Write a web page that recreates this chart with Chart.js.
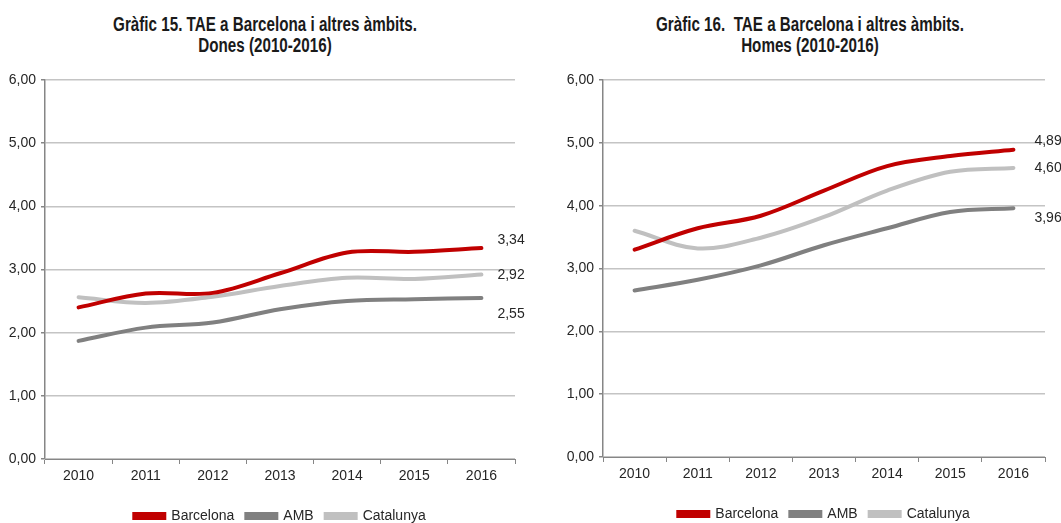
<!DOCTYPE html>
<html>
<head>
<meta charset="utf-8">
<script src="https://cdn.jsdelivr.net/npm/chart.js@4/dist/chart.umd.min.js"></script>
<style>
  html, body { margin: 0; padding: 0; background: #fff; overflow: hidden; }
  #wrap { position: relative; width: 1061px; height: 523px; overflow: hidden; }
  .box { position: absolute; top: 0; }
  .title {
    position: absolute; top: 14px; width: 500px; margin-left: -250px;
    text-align: center; font-family: 'Liberation Sans', Arial, sans-serif;
    font-weight: bold; font-size: 20px; line-height: 21px; color: #1a1a1a;
    transform: scaleX(0.76); transform-origin: center top; white-space: pre;
  }
</style>
</head>
<body>
<div id="wrap">
  <div class="title" style="left:265px">Gràfic 15. TAE a Barcelona i altres àmbits.
Dones (2010-2016)</div>
  <div class="title" style="left:810px">Gràfic 16.  TAE a Barcelona i altres àmbits.
Homes (2010-2016)</div>
  <div class="box" style="left:0;width:530px;height:533px"><canvas id="dones"></canvas></div>
  <div class="box" style="left:530px;width:531px;height:531px"><canvas id="homes"></canvas></div>
</div>
<script>
const years = ['2010', '2011', '2012', '2013', '2014', '2015', '2016'];
const seriesNames = ['Barcelona', 'AMB', 'Catalunya'];

const donesBarcelona = [2.40, 2.62, 2.63, 2.94, 3.27, 3.28, 3.34];
const donesAMB = [1.87, 2.08, 2.16, 2.37, 2.50, 2.53, 2.55];
const donesCatalunya = [2.56, 2.47, 2.57, 2.74, 2.87, 2.85, 2.92];

const homesBarcelona = [3.30, 3.64, 3.84, 4.24, 4.63, 4.79, 4.89];
const homesAMB = [2.65, 2.82, 3.05, 3.37, 3.64, 3.90, 3.96];
const homesCatalunya = [3.60, 3.32, 3.49, 3.82, 4.24, 4.54, 4.60];

const yTicks = [0, 1, 2, 3, 4, 5, 6];

const colors = ['#c00000', '#808080', '#c0c0c0'];
const textColor = '#262626';
const font = "'Liberation Sans', Arial, sans-serif";

const fmt = v => v.toFixed(2).replace('.', ',');

// value labels next to the last point of every line
const endLabels = {
    id: 'endLabels',
    afterDatasetsDraw(chart, args, opts) {
        const ctx = chart.ctx;
        ctx.save();
        ctx.font = '14px ' + font;
        ctx.fillStyle = textColor;
        ctx.textAlign = 'left';
        ctx.textBaseline = 'middle';
        chart.data.datasets.forEach((ds, i) => {
            const meta = chart.getDatasetMeta(i);
            const pt = meta.data[meta.data.length - 1];
            const v = ds.data[ds.data.length - 1];
            ctx.fillText(fmt(v), pt.x + opts.dx, pt.y + opts.dy[i]);
        });
        ctx.restore();
    }
};

function draw(canvasId, values, yWidth, padRight, labelDx, labelDy) {
    const datasets = values.map((vals, i) => ({
        label: seriesNames[i],
        data: vals,
        borderColor: colors[i],
        backgroundColor: colors[i],
        borderWidth: 4,
        borderCapStyle: 'round',
        pointRadius: 0,
        tension: 0.35
    }));

    return new Chart(document.getElementById(canvasId), {
        type: 'line',
        data: { labels: years, datasets: datasets },
        plugins: [endLabels],
        options: {
            responsive: true,
            maintainAspectRatio: false,
            animation: false,
            layout: { padding: { left: 0, right: padRight, top: 80, bottom: 0 } },
            scales: {
                x: {
                    offset: true,
                    afterFit: s => { s.height = 38; },
                    grid: { drawOnChartArea: false, drawTicks: true, tickLength: 5, color: '#868686', offset: true },
                    border: { color: '#868686', width: 1 },
                    ticks: { color: textColor, padding: 4, font: { family: font, size: 14 } }
                },
                y: {
                    min: 0,
                    max: 6,
                    afterFit: s => { s.width = yWidth; },
                    afterBuildTicks: s => { s.ticks = yTicks.map(v => ({ value: v })); },
                    grid: { color: '#c4c4c4', lineWidth: 1.5, tickLength: 4, tickColor: '#868686' },
                    border: { color: '#868686', width: 1.5 },
                    ticks: {
                        color: textColor,
                        padding: 5,
                        font: { family: font, size: 14 },
                        callback: v => fmt(v)
                    }
                }
            },
            plugins: {
                title: { display: false },
                legend: {
                    position: 'bottom',
                    fullSize: false,
                    labels: {
                        color: textColor,
                        boxWidth: 30,
                        boxHeight: 4,
                        padding: 12,
                        font: { family: font, size: 14 }
                    }
                },
                tooltip: { enabled: false },
                endLabels: { dx: labelDx, dy: labelDy }
            }
        }
    });
}

draw('dones',
    [donesBarcelona, donesAMB, donesCatalunya],
    45, 15, 16, [-8, 16, 1]);

draw('homes',
    [homesBarcelona, homesAMB, homesCatalunya],
    73, 16, 21, [-9, 10, 0]);
</script>
</body>
</html>
